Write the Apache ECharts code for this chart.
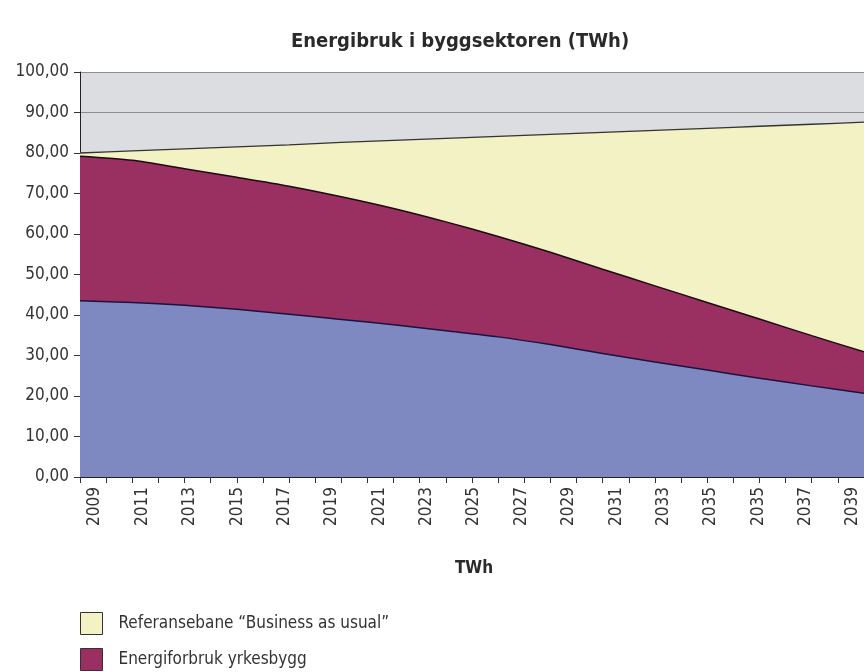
<!DOCTYPE html>
<html>
<head>
<meta charset="utf-8">
<script src="https://cdn.jsdelivr.net/npm/echarts@6/dist/echarts.min.js"></script>
<style>
  html, body { margin: 0; padding: 0; background: #fff; }
  #chart { width: 864px; height: 672px; }
</style>
</head>
<body>
<div id="chart"></div>
<script>
// years the areas are drawn at
var years = [2009, 2011, 2013, 2015, 2017, 2019, 2021, 2023, 2025, 2027, 2029, 2031, 2033, 2035, 2037, 2039];
// top of each area (TWh)
var referanse = [80.0, 80.5, 81.0, 81.5, 82.0, 82.6, 83.1, 83.6, 84.1, 84.6, 85.1, 85.6, 86.1, 86.6, 87.1, 87.6];
var yrkesbygg = [79.2, 78.2, 76.1, 74.0, 71.8, 69.2, 66.3, 63.0, 59.4, 55.5, 51.3, 47.2, 43.1, 39.0, 34.9, 30.9];
var bolig = [43.5, 43.1, 42.4, 41.4, 40.2, 38.9, 37.6, 36.1, 34.6, 32.7, 30.5, 28.4, 26.4, 24.4, 22.5, 20.7];
// x labels as printed (2035 appears twice in the original)
var xLabels = ['2009', '2011', '2013', '2015', '2017', '2019', '2021', '2023', '2025', '2027', '2029', '2031', '2033', '2035', '2035', '2037', '2039'];

var nameRef = 'Referansebane \u201cBusiness as usual\u201d';
var nameYrk = 'Energiforbruk yrkesbygg';
var nameBol = 'Energiforbruk boliger';

function pairs(vals) {
  return years.map(function (y, i) { return [y, vals[i]]; });
}

var font = "'Liberation Sans Narrow', 'DejaVu Sans Condensed', sans-serif";
var chart = echarts.init(document.getElementById('chart'));

chart.setOption({
  animation: false,
  textStyle: { fontFamily: font },
  title: {
    text: 'Energibruk i byggsektoren (TWh)',
    left: 455,
    textAlign: 'center',
    top: 27,
    textStyle: { fontFamily: font, fontSize: 20, fontWeight: 'bold', color: '#2a2a2a' }
  },
  legend: {
    orient: 'vertical',
    left: 80,
    top: 612,
    padding: 0,
    icon: 'rect',
    itemWidth: 22,
    itemHeight: 22,
    itemGap: 13,
    data: [nameRef, nameYrk],
    itemStyle: { borderColor: '#333', borderWidth: 1 },
    textStyle: { fontFamily: font, fontSize: 17, color: '#333', padding: [0, 0, 0, 11] }
  },
  grid: [
    { left: 80, top: 72, right: 0, bottom: 195, show: true, backgroundColor: '#dcdde0', borderWidth: 0 },
    { left: 95, top: 72, right: 11, bottom: 195 }
  ],
  xAxis: [
    {
      type: 'value', gridIndex: 0, min: 2009, max: 2039, interval: 1,
      axisLine: { show: true, onZero: false, lineStyle: { color: '#222', width: 1 } },
      axisTick: { show: true, length: 6, lineStyle: { color: '#333' } },
      axisLabel: { show: false },
      splitLine: { show: false }
    },
    {
      type: 'category', gridIndex: 1, data: xLabels, boundaryGap: false,
      axisLine: { show: false }, axisTick: { show: false },
      axisLabel: { rotate: 90, margin: 10, fontSize: 17, color: '#333', fontFamily: font, interval: 0 },
      name: 'TWh', nameLocation: 'middle', nameGap: 83,
      nameTextStyle: { fontSize: 17, fontWeight: 'bold', color: '#2a2a2a', fontFamily: font }
    }
  ],
  yAxis: [
    {
      type: 'value', gridIndex: 0, min: 0, max: 100, interval: 10,
      axisLine: { show: true, lineStyle: { color: '#222', width: 1 } },
      axisTick: { show: true, length: 6, lineStyle: { color: '#333' } },
      axisLabel: {
        margin: 11, fontSize: 17, color: '#333', fontFamily: font,
        formatter: function (v) { return v.toFixed(2).replace('.', ','); }
      },
      splitLine: { show: true, lineStyle: { color: '#8c8c8c', width: 1 } }
    },
    { type: 'value', gridIndex: 1, show: false }
  ],
  series: [
    {
      name: nameRef, type: 'line', xAxisIndex: 0, yAxisIndex: 0,
      data: pairs(referanse), symbol: 'none', smooth: 0.25,
      itemStyle: { color: '#f3f2c4' },
      lineStyle: { color: '#333', width: 1.3 },
      areaStyle: { color: '#f3f2c4', opacity: 1 }
    },
    {
      name: nameYrk, type: 'line', xAxisIndex: 0, yAxisIndex: 0,
      data: pairs(yrkesbygg), symbol: 'none', smooth: 0.25,
      itemStyle: { color: '#9a3061' },
      lineStyle: { color: '#1c0a14', width: 1.5 },
      areaStyle: { color: '#9a3061', opacity: 1 }
    },
    {
      name: nameBol, type: 'line', xAxisIndex: 0, yAxisIndex: 0,
      data: pairs(bolig), symbol: 'none', smooth: 0.25,
      itemStyle: { color: '#7f89c1' },
      lineStyle: { color: '#1a1240', width: 1.5 },
      areaStyle: { color: '#7f89c1', opacity: 1 }
    }
  ]
});
</script>
</body>
</html>
